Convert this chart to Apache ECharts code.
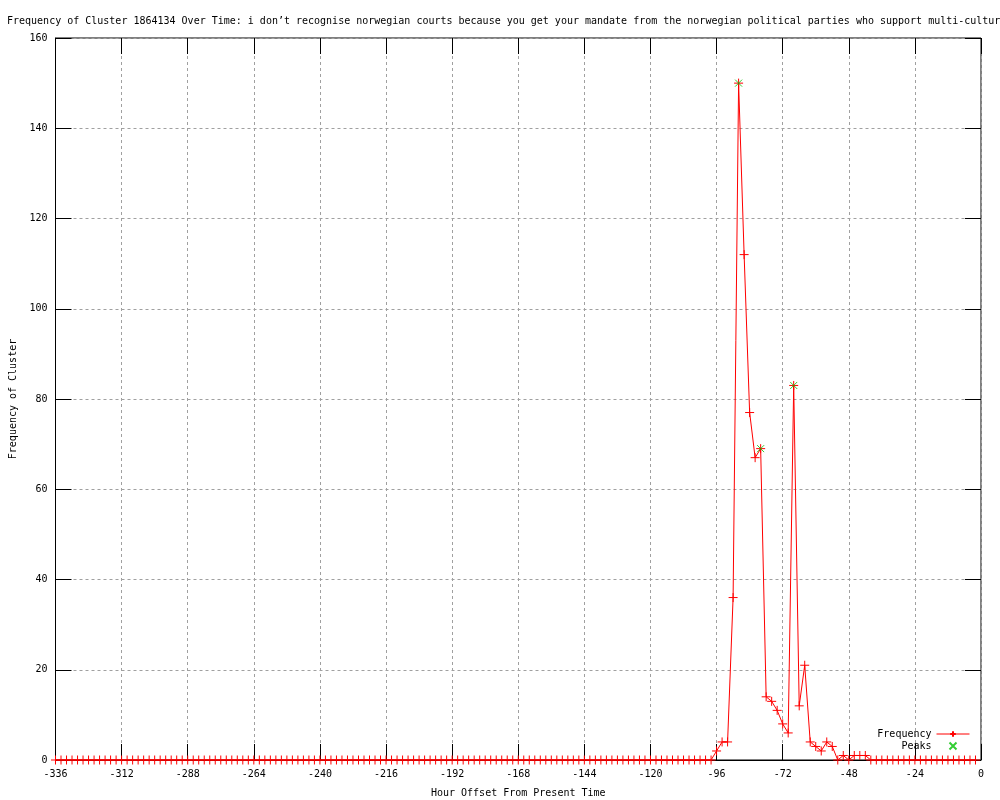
<!DOCTYPE html>
<html>
<head>
<meta charset="utf-8">
<script src="https://cdn.jsdelivr.net/npm/echarts@6/dist/echarts.min.js"></script>
<style>
html,body{margin:0;padding:0;background:#fff;}
#c{width:1000px;height:800px;}
</style>
</head>
<body>
<div id="c"></div>
<script>
const titleText = "Frequency of Cluster 1864134 Over Time: i don\u2019t recognise norwegian courts because you get your mandate from the norwegian political parties who support multi-culturalism";
const xTicks = [-336, -312, -288, -264, -240, -216, -192, -168, -144, -120, -96, -72, -48, -24, 0];
const yTicks = [0, 20, 40, 60, 80, 100, 120, 140, 160];

const hours = [
  -336,-334,-332,-330,-328,-326,-324,-322,-320,-318,-316,-314,-312,-310,-308,-306,-304,-302,-300,-298,
  -296,-294,-292,-290,-288,-286,-284,-282,-280,-278,-276,-274,-272,-270,-268,-266,-264,-262,-260,-258,
  -256,-254,-252,-250,-248,-246,-244,-242,-240,-238,-236,-234,-232,-230,-228,-226,-224,-222,-220,-218,
  -216,-214,-212,-210,-208,-206,-204,-202,-200,-198,-196,-194,-192,-190,-188,-186,-184,-182,-180,-178,
  -176,-174,-172,-170,-168,-166,-164,-162,-160,-158,-156,-154,-152,-150,-148,-146,-144,-142,-140,-138,
  -136,-134,-132,-130,-128,-126,-124,-122,-120,-118,-116,-114,-112,-110,-108,-106,-104,-102,-100,-98,
  -96,-94,-92,-90,-88,-86,-84,-82,-80,-78,-76,-74,-72,-70,-68,-66,-64,-62,-60,-58,
  -56,-54,-52,-50,-48,-46,-44,-42,-40,-38,-36,-34,-32,-30,-28,-26,-24,-22,-20,-18,
  -16,-14,-12,-10,-8,-6,-4,-2
];
const frequency = [
  0,0,0,0,0,0,0,0,0,0,0,0,0,0,0,0,0,0,0,0,
  0,0,0,0,0,0,0,0,0,0,0,0,0,0,0,0,0,0,0,0,
  0,0,0,0,0,0,0,0,0,0,0,0,0,0,0,0,0,0,0,0,
  0,0,0,0,0,0,0,0,0,0,0,0,0,0,0,0,0,0,0,0,
  0,0,0,0,0,0,0,0,0,0,0,0,0,0,0,0,0,0,0,0,
  0,0,0,0,0,0,0,0,0,0,0,0,0,0,0,0,0,0,0,0,
  2,4,4,36,150,112,77,67,69,14,13,11,8,6,83,12,21,4,3,2,
  4,3,0,1,0,1,1,1,0,0,0,0,0,0,0,0,0,0,0,0,
  0,0,0,0,0,0,0,0
];
const peakHours = [-88, -80, -68];
const peakValues = [150, 69, 83];

const FONT = "'DejaVu Sans Mono', 'Liberation Mono', monospace";
const plusPath = 'path://M0,5L10,5M5,0L5,10';
const xPath = 'path://M0,0L10,10M10,0L0,10';

const freqData = hours.map((h, i) => [h, frequency[i]]);
const peakData = peakHours.map((h, i) => [h, peakValues[i]]);

const chart = echarts.init(document.getElementById('c'), null, {renderer: 'canvas'});
const baseX = {
  type: 'value', min: xTicks[0], max: xTicks[xTicks.length - 1], interval: 24
};
const baseY = {
  type: 'value', min: yTicks[0], max: yTicks[yTicks.length - 1], interval: 20
};
const tick = {show: true, inside: true, length: 16, lineStyle: {color: '#000', width: 1}};
chart.setOption({
  animation: false,
  backgroundColor: '#fff',
  title: {
    text: titleText, left: 2, top: 11,
    textStyle: {fontFamily: FONT, fontSize: 10, fontWeight: 'normal', color: '#000'}
  },
  grid: {
    left: 55.5, right: 19, top: 38, bottom: 40,
    show: true, borderColor: '#000', borderWidth: 1, backgroundColor: 'transparent',
    outerBoundsMode: 'none', containLabel: false
  },
  legend: {
    orient: 'vertical', right: 25, top: 724, align: 'right',
    itemWidth: 33, itemHeight: 7, itemGap: 2,
    textStyle: {fontFamily: FONT, fontSize: 10, color: '#000'},
    lineStyle: {width: 1},
    selectedMode: false,
    data: ['Frequency', 'Peaks']
  },
  xAxis: [
    Object.assign({}, baseX, {
      position: 'bottom',
      name: 'Hour Offset From Present Time', nameLocation: 'middle', nameGap: 28,
      nameTextStyle: {fontFamily: FONT, fontSize: 10, color: '#000'},
      axisLine: {show: true, onZero: false, lineStyle: {color: '#000', width: 1}},
      axisTick: tick,
      axisLabel: {show: true, margin: 9, fontFamily: FONT, fontSize: 10, color: '#000',
        showMinLabel: true, showMaxLabel: true, hideOverlap: false},
      splitLine: {show: true, lineStyle: {color: '#a0a0a0', width: 1, type: [3, 3]}}
    }),
    Object.assign({}, baseX, {
      position: 'top',
      axisLine: {show: false, onZero: false},
      axisTick: tick,
      axisLabel: {show: false},
      splitLine: {show: false}
    })
  ],
  yAxis: [
    Object.assign({}, baseY, {
      position: 'left',
      name: 'Frequency of Cluster', nameLocation: 'middle', nameGap: 37,
      nameTextStyle: {fontFamily: FONT, fontSize: 10, color: '#000'},
      axisLine: {show: true, onZero: false, lineStyle: {color: '#000', width: 1}},
      axisTick: tick,
      axisLabel: {show: true, margin: 8, fontFamily: FONT, fontSize: 10, color: '#000',
        showMinLabel: true, showMaxLabel: true, hideOverlap: false},
      splitLine: {show: true, lineStyle: {color: '#a0a0a0', width: 1, type: [3, 3]}}
    }),
    Object.assign({}, baseY, {
      position: 'right',
      axisLine: {show: false, onZero: false},
      axisTick: tick,
      axisLabel: {show: false},
      splitLine: {show: false}
    })
  ],
  series: [
    {
      name: 'Frequency', type: 'line', xAxisIndex: 0, yAxisIndex: 0,
      data: freqData,
      showAllSymbol: true,
      symbol: plusPath, symbolSize: 9,
      lineStyle: {color: '#ff0000', width: 1},
      itemStyle: {color: '#ff0000', borderColor: '#ff0000', borderWidth: 1},
      emphasis: {disabled: true},
      clip: false, z: 2
    },
    {
      name: 'Peaks', type: 'scatter', xAxisIndex: 0, yAxisIndex: 0,
      data: peakData,
      symbol: xPath, symbolSize: 7,
      itemStyle: {color: '#00c000', borderColor: '#00c000', borderWidth: 1},
      emphasis: {disabled: true},
      z: 3
    }
  ]
});
</script>
</body>
</html>
